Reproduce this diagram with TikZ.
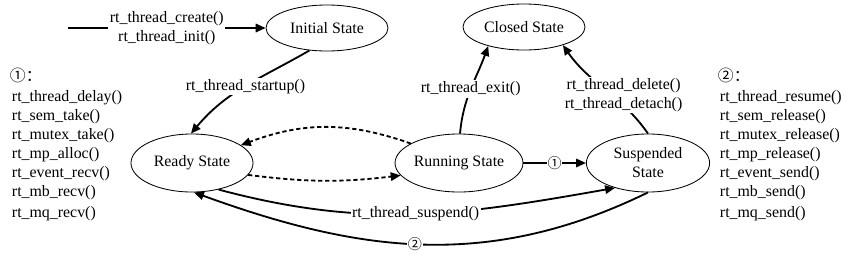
\documentclass[tikz,border=0pt]{standalone}
\usepackage{fontspec}
\setmainfont{Liberation Serif}
\newfontfamily\cjk{Noto Sans CJK SC}
\usetikzlibrary{shapes.geometric,arrows.meta}

\begin{document}
\begin{tikzpicture}[x=0.025cm, y=-0.025cm,
  every node/.style={font=\fontsize{11.3}{13.5}\selectfont},
  state/.style={draw, ellipse, line width=0.6pt, inner sep=0pt, align=center},
  trans/.style={-{Triangle[length=7pt,width=6pt]}, line width=1.3pt},
  wait/.style={trans, dash pattern=on 3pt off 2pt},
  lbl/.style={fill=white, inner sep=1pt, align=center},
  num/.style={fill=white, inner sep=0.5pt, font=\cjk\fontsize{10}{12}\selectfont}]
  \useasboundingbox (0,0) rectangle (853,264);
  % states
  \node[state, minimum width=3.05cm, minimum height=1.15cm] (init) at (327,28) {Initial State};
  \node[state, minimum width=3.05cm, minimum height=1.15cm] (closed) at (524,27) {Closed State};
  \node[state, minimum width=3.05cm, minimum height=1.45cm] (ready) at (192,163) {Ready State};
  \node[state, minimum width=3.0cm, minimum height=1.45cm] (run) at (459,163) {Running State};
  \node[state, minimum width=3.08cm, minimum height=1.45cm] (susp) at (648,163) {Suspended\\State};
  % transitions
  \coordinate (start) at (68,28);
  \draw[trans] (start) -- node[lbl] {rt\_thread\_create()\\rt\_thread\_init()} (init);
  \draw[trans] (init.232) to[out=210, in=50] node[lbl] {rt\_thread\_startup()} (ready.92);
  \draw[trans] (run.88) to[out=85, in=250] node[lbl] {rt\_thread\_exit()} (closed.208);
  \draw[trans] (susp.north) to[out=125, in=-55] node[lbl, pos=0.42, xshift=8] {rt\_thread\_delete()\\rt\_thread\_detach()} (closed.335);
  \draw[wait] (run.158) to[bend right=20] (ready.20);
  \draw[wait] (ready.-12) to[bend right=7] (run.-168);
  \draw[trans] (run) -- node[num] {①} (susp);
  \draw[trans] (ready.-45) to[out=-15, in=190] node[lbl] {rt\_thread\_suspend()} (susp.217);
  \draw[trans] (susp.south) to[out=206, in=-20] node[num, pos=0.52] {②} (ready.-86);
  % blocking calls
  \node[anchor=west] (note1) at (5,75) {\cjk ①：};
  \foreach \y/\t [count=\i] in {98/rt\_thread\_delay(), 117/rt\_sem\_take(), 136/rt\_mutex\_take(),
      155/rt\_mp\_alloc(), 174/rt\_event\_recv(), 193/rt\_mb\_recv(), 214/rt\_mq\_recv()}
    \node[anchor=west] (take\i) at (7,\y) {\t};
  % waking calls
  \node[anchor=west] (note2) at (713,75) {\cjk ②：};
  \foreach \y/\t [count=\i] in {98/rt\_thread\_resume(), 117/rt\_sem\_release(), 136/rt\_mutex\_release(),
      155/rt\_mp\_release(), 174/rt\_event\_send(), 193/rt\_mb\_send(), 214/rt\_mq\_send()}
    \node[anchor=west] (give\i) at (715,\y) {\t};
\end{tikzpicture}
\end{document}
